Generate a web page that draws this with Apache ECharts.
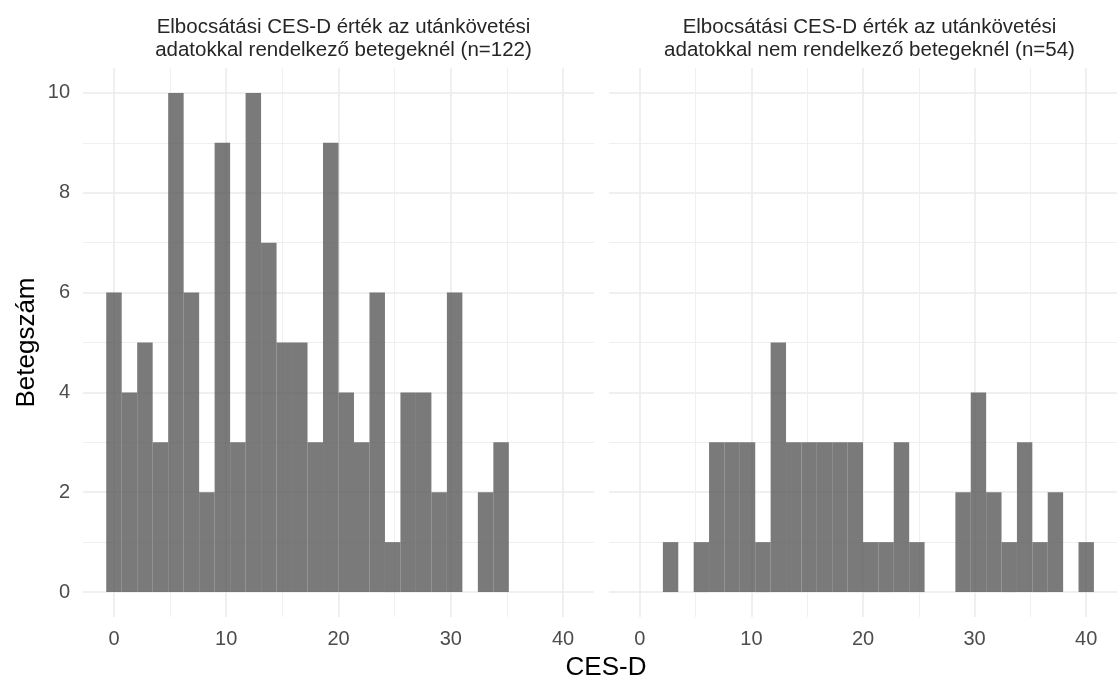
<!DOCTYPE html>
<html><head><meta charset="utf-8">
<script src="https://cdn.jsdelivr.net/npm/echarts@6/dist/echarts.min.js"></script>
<style>html,body{margin:0;padding:0;background:#fff}#c{width:1120px;height:681px}</style>
</head><body><div id="c"></div>
<script>
// Histogram bins: 30 bins, first centred on 0, last centred on 40
const binWidth = 40 / 29;
const countsWith = [6,4,5,3,10,6,2,9,3,10,7,5,5,3,9,4,3,6,1,4,4,2,6,0,2,3,0,0,0,0];
const countsWithout = [0,0,1,0,1,3,3,3,1,5,3,3,3,3,3,1,1,3,1,0,0,2,4,2,1,3,1,2,0,1];
const panelTitles = [
  'Elbocsátási CES-D érték az utánkövetési\nadatokkal rendelkező betegeknél (n=122)',
  'Elbocsátási CES-D érték az utánkövetési\nadatokkal nem rendelkező betegeknél (n=54)'
];
const xAxisTitle = 'CES-D';
const yAxisTitle = 'Betegszám';
const xTickValues = [0, 10, 20, 30, 40];

const FONT = "'Liberation Sans', Arial, sans-serif";
const xMin = -binWidth / 2 - 0.05 * (40 + binWidth);
const xMax = 40 + binWidth / 2 + 0.05 * (40 + binWidth);

function toBins(counts) {
  const out = [];
  counts.forEach((c, i) => {
    if (c > 0) {
      const center = i * binWidth;
      out.push([center - binWidth / 2, center + binWidth / 2, c]);
    }
  });
  return out;
}

function renderItem(params, api) {
  const p0 = api.coord([api.value(0), api.value(2)]);
  const p1 = api.coord([api.value(1), 0]);
  return {
    type: 'rect',
    shape: { x: p0[0], y: p0[1], width: p1[0] - p0[0], height: p1[1] - p0[1] },
    style: { fill: 'rgba(89,89,89,0.8)' }
  };
}

const grids = [
  { left: 83, top: 68, width: 511, height: 549 },
  { left: 609, top: 68, width: 511, height: 549 }
];

function xAxis(i) {
  return {
    type: 'value', gridIndex: i, min: xMin, max: xMax, splitNumber: 5,
    axisLine: { show: false }, axisTick: { show: false },
    axisLabel: {
      margin: 12, color: '#4d4d4d', fontSize: 20, fontFamily: FONT,
      formatter: v => (xTickValues.indexOf(Math.round(v * 1000) / 1000) >= 0 ? String(Math.round(v)) : '')
    },
    splitLine: { show: true, showMinLine: false, showMaxLine: false, lineStyle: { color: '#ebebeb', width: 1.6 } },
    minorTick: { show: false, splitNumber: 2 },
    minorSplitLine: { show: true, lineStyle: { color: '#efefef', width: 1.1 } }
  };
}
function yAxis(i) {
  return {
    type: 'value', gridIndex: i, min: -0.5, max: 10.5, splitNumber: 5,
    axisLine: { show: false }, axisTick: { show: false },
    name: i === 0 ? yAxisTitle : '', nameLocation: 'middle', nameGap: 43, nameRotate: 90,
    nameTextStyle: { color: '#000', fontSize: 26, fontFamily: FONT },
    axisLabel: {
      show: i === 0, margin: 13, color: '#4d4d4d', fontSize: 20, fontFamily: FONT,
      formatter: v => (Math.abs(v - Math.round(v)) < 1e-6 && Math.round(v) % 2 === 0 && v >= 0 && v <= 10 ? String(Math.round(v)) : '')
    },
    splitLine: { show: true, showMinLine: false, showMaxLine: false, lineStyle: { color: '#ebebeb', width: 1.6 } },
    minorTick: { show: false, splitNumber: 2 },
    minorSplitLine: { show: true, lineStyle: { color: '#efefef', width: 1.1 } }
  };
}

const chart = echarts.init(document.getElementById('c'), null, { renderer: 'canvas' });
chart.setOption({
  animation: false,
  backgroundColor: '#fff',
  title: [
    { text: panelTitles[0], left: 338.5, top: 11, textAlign: 'center',
      textStyle: { color: '#262626', fontSize: 20.5, fontWeight: 'normal', fontFamily: FONT, lineHeight: 23 } },
    { text: panelTitles[1], left: 864.5, top: 11, textAlign: 'center',
      textStyle: { color: '#262626', fontSize: 20.5, fontWeight: 'normal', fontFamily: FONT, lineHeight: 23 } },
    { text: xAxisTitle, left: 601, top: 650, textAlign: 'center',
      textStyle: { color: '#000', fontSize: 26, fontWeight: 'normal', fontFamily: FONT } }
  ],
  grid: grids,
  xAxis: [xAxis(0), xAxis(1)],
  yAxis: [yAxis(0), yAxis(1)],
  series: [
    { type: 'custom', xAxisIndex: 0, yAxisIndex: 0, renderItem, encode: { x: [0, 1], y: 2 }, data: toBins(countsWith) },
    { type: 'custom', xAxisIndex: 1, yAxisIndex: 1, renderItem, encode: { x: [0, 1], y: 2 }, data: toBins(countsWithout) }
  ]
});
</script></body></html>
